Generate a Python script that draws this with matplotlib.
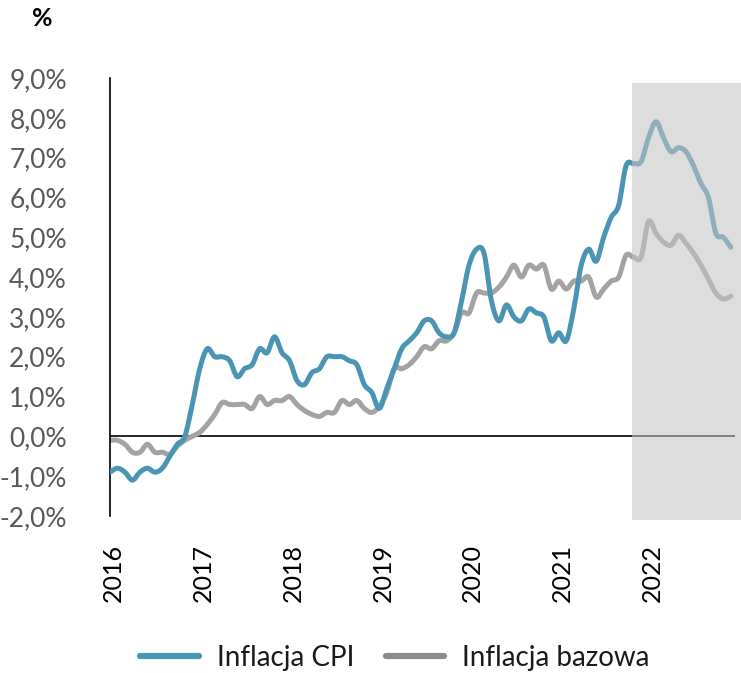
import matplotlib
matplotlib.use("Agg")
import matplotlib.pyplot as plt
from matplotlib.lines import Line2D
from matplotlib.patches import Rectangle, PathPatch
from matplotlib.path import Path
import numpy as np

plt.rcParams['font.family'] = ['Lato', 'DejaVu Sans']

# Monthly data Jan 2016 .. Dec 2022 (y/y, %)
cpi_2016 = [-0.9, -0.8, -0.9, -1.1, -0.9, -0.8, -0.9, -0.8, -0.5, -0.2, 0.0, 0.8]
cpi_2017 = [1.7, 2.2, 2.0, 2.0, 1.9, 1.5, 1.7, 1.8, 2.2, 2.1, 2.5, 2.1]
cpi_2018 = [1.9, 1.4, 1.3, 1.6, 1.7, 2.0, 2.0, 2.0, 1.9, 1.8, 1.3, 1.1]
cpi_2019 = [0.7, 1.2, 1.7, 2.2, 2.4, 2.6, 2.9, 2.9, 2.6, 2.5, 2.6, 3.4]
cpi_2020 = [4.3, 4.7, 4.6, 3.4, 2.9, 3.3, 3.0, 2.9, 3.2, 3.1, 3.0, 2.4]
cpi_2021 = [2.6, 2.4, 3.2, 4.3, 4.7, 4.4, 5.0, 5.5, 5.8, 6.8, 6.85, 6.9]
cpi_2022 = [7.5, 7.9, 7.5, 7.15, 7.25, 7.15, 6.8, 6.35, 6.0, 5.1, 5.0, 4.75]

core_2016 = [-0.1, -0.1, -0.2, -0.4, -0.4, -0.2, -0.4, -0.4, -0.45, -0.25, -0.1, 0.0]
core_2017 = [0.1, 0.3, 0.55, 0.85, 0.8, 0.8, 0.8, 0.7, 1.0, 0.8, 0.9, 0.9]
core_2018 = [1.0, 0.8, 0.65, 0.55, 0.5, 0.6, 0.6, 0.9, 0.8, 0.9, 0.7, 0.6]
core_2019 = [0.75, 1.1, 1.7, 1.7, 1.8, 2.0, 2.25, 2.2, 2.4, 2.4, 2.6, 3.1]
core_2020 = [3.1, 3.6, 3.6, 3.6, 3.75, 4.0, 4.3, 4.0, 4.3, 4.2, 4.3, 3.7]
core_2021 = [3.9, 3.7, 3.9, 3.9, 4.0, 3.5, 3.7, 3.9, 4.0, 4.55, 4.5, 4.5]
core_2022 = [5.4, 5.1, 4.88, 4.8, 5.05, 4.85, 4.6, 4.3, 3.95, 3.6, 3.45, 3.52]

cpi = cpi_2016 + cpi_2017 + cpi_2018 + cpi_2019 + cpi_2020 + cpi_2021 + cpi_2022
core = core_2016 + core_2017 + core_2018 + core_2019 + core_2020 + core_2021 + core_2022

years = ['2016', '2017', '2018', '2019', '2020', '2021', '2022']
y_ticks = [-2, -1, 0, 1, 2, 3, 4, 5, 6, 7, 8, 9]
forecast_start = 69.8  # month index where shaded forecast area begins

labels = ['Inflacja CPI', 'Inflacja bazowa']
blue = '#4b95b4'
gray = '#a3a3a3'


def smooth_path(xs, ys):
    """Excel-style smoothed line through the data points (cubic Bezier)."""
    p = np.column_stack([xs, ys]).astype(float)
    n = len(p)
    verts = [p[0]]
    codes = [Path.MOVETO]
    for i in range(n - 1):
        p0 = p[i - 1] if i > 0 else p[i]
        p1 = p[i]
        p2 = p[i + 1]
        p3 = p[i + 2] if i + 2 < n else p[i + 1]
        c1 = p1 + (p2 - p0) / 6.0
        c2 = p2 - (p3 - p1) / 6.0
        verts += [c1, c2, p2]
        codes += [Path.CURVE4] * 3
    return Path(verts, codes)


W, H = 741, 673
fig = plt.figure(figsize=(W / 100, H / 100), dpi=100)
ax = fig.add_axes([110 / W, 1 - 516 / H, (740 - 110) / W, (516 - 78) / H])

x = np.arange(len(cpi))
for ys, col, z in [(core, gray, 2), (cpi, blue, 3)]:
    patch = PathPatch(smooth_path(x, ys), facecolor='none', edgecolor=col, lw=3.6,
                      capstyle='round', joinstyle='round', zorder=z)
    ax.add_patch(patch)
ax.hlines(0, 0, 83.6, color='black', lw=1.2, zorder=1)

ax.set_xlim(0, (740 - 110) / 7.48)
ax.set_ylim(-2, 9)

# shaded forecast area drawn over the lines
rect = Rectangle((forecast_start, -2.1), 90 - forecast_start, 8.87 + 2.1,
                 facecolor=(196 / 255, 196 / 255, 196 / 255), alpha=0.57,
                 edgecolor='none', zorder=4, clip_on=False)
ax.add_patch(rect)

for s in ['top', 'right', 'bottom']:
    ax.spines[s].set_visible(False)
ax.spines['left'].set_color('black')
ax.spines['left'].set_linewidth(1.2)

ax.set_yticks(y_ticks)
ax.set_yticklabels([f"{v:.1f}%".replace('.', ',') for v in y_ticks])
ax.tick_params(axis='y', length=0, pad=31, labelsize=19, labelcolor='#595959')

ax.set_xticks([12 * i + 0.5 for i in range(len(years))])
ax.set_xticklabels(years, rotation=90, va='top', ha='center')
ax.tick_params(axis='x', length=0, pad=20, labelsize=18, labelcolor='black')

fig.text(42 / W, 1 - 18 / H, '%', ha='center', va='center', fontsize=18, fontweight='bold')

handles = [Line2D([], [], color=blue, lw=4.5, solid_capstyle='round'),
           Line2D([], [], color='#8c8c8c', lw=4.5, solid_capstyle='round')]
fig.legend(handles, labels, loc='center', bbox_to_anchor=(395 / W, 1 - 658 / H),
           ncol=2, frameon=False, fontsize=20, handlelength=2.1, columnspacing=1.15,
           handletextpad=0.65, labelcolor='#1a1a1a')

fig.savefig('out.png', dpi=100)
